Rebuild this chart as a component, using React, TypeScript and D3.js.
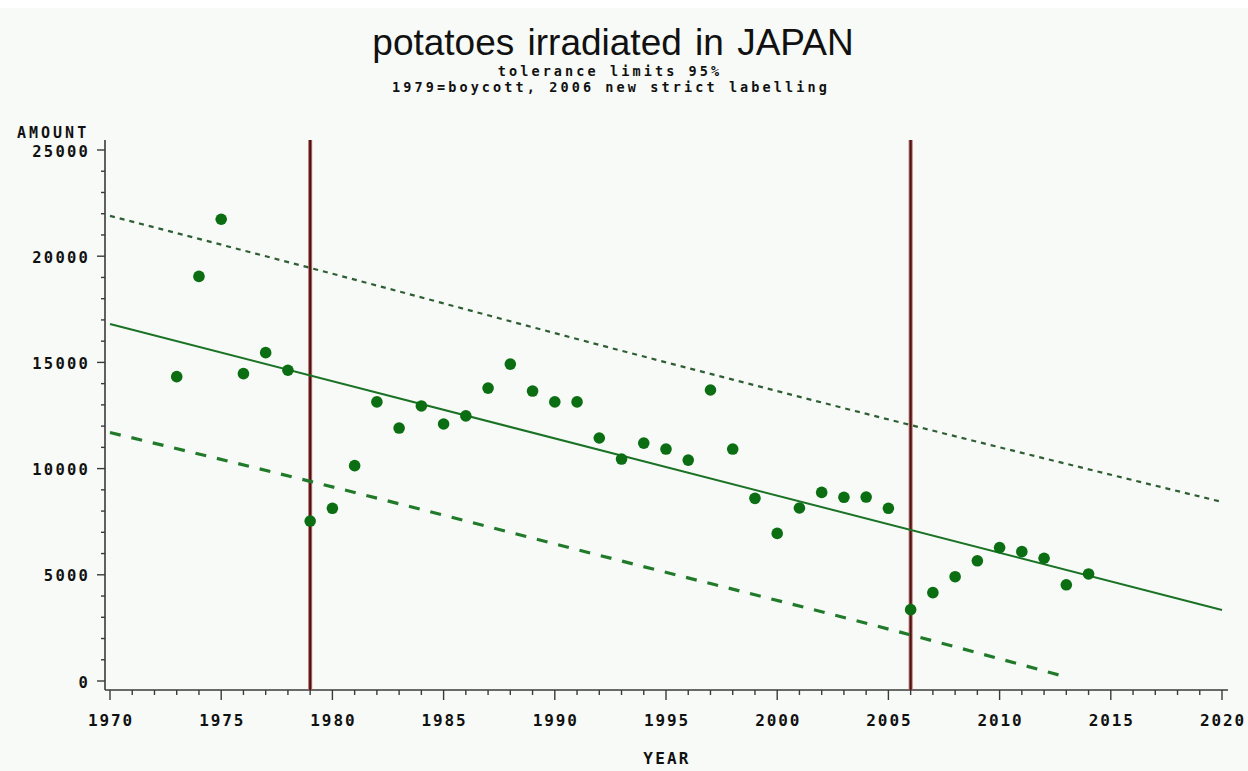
import React from "react";
import * as d3 from "d3";

const years = [1973, 1974, 1975, 1976, 1977, 1978, 1979, 1980, 1981, 1982, 1983, 1984, 1985, 1986, 1987, 1988, 1989, 1990, 1991, 1992, 1993, 1994, 1995, 1996, 1997, 1998, 1999, 2000, 2001, 2002, 2003, 2004, 2005, 2006, 2007, 2008, 2009, 2010, 2011, 2012, 2013, 2014];
const amounts = [14330, 19050, 21740, 14470, 15460, 14630, 7530, 8130, 10140, 13140, 11910, 12950, 12100, 12480, 13790, 14920, 13650, 13140, 13140, 11440, 10450, 11200, 10920, 10400, 13700, 10920, 8600, 6950, 8145, 8880, 8650, 8660, 8130, 3360, 4160, 4910, 5660, 6280, 6090, 5780, 4530, 5040];

const fitYears = [1970, 2020];
const fitValues = [16810, 3340];
const upperYears = [1970, 1979, 1993, 2006, 2020];
const upperValues = [21900, 19450, 15550, 12050, 8430];
const lowerYears = [1970, 1979, 1993, 2006, 2013];
const lowerValues = [11700, 9400, 5650, 2170, 190];

const eventYears = [1979, 2006];

const xTicks = [1970, 1975, 1980, 1985, 1990, 1995, 2000, 2005, 2010, 2015, 2020];
const yTicks = [0, 5000, 10000, 15000, 20000, 25000];

const title = "potatoes irradiated in JAPAN";
const subtitle1 = "tolerance limits 95%";
const subtitle2 = "1979=boycott, 2006 new strict labelling";

export default function App() {
  const W = 1248, H = 771;
  const x = d3.scaleLinear().domain([1970, 2020]).range([110, 1222]);
  const y = d3.scaleLinear().domain([0, 25000]).range([681, 150]);
  const axisLeft = 105, axisTop = 140, axisBottom = 690, axisRight = 1228;

  const line = d3.line<[number, number]>().x(d => x(d[0])).y(d => y(d[1]));
  const smooth = d3.line<[number, number]>().x(d => x(d[0])).y(d => y(d[1])).curve(d3.curveMonotoneX);

  const fitPath = line(fitYears.map((yr, i) => [yr, fitValues[i]]) as [number, number][]) || "";
  const upperPath = smooth(upperYears.map((yr, i) => [yr, upperValues[i]]) as [number, number][]) || "";
  const lowerPath = smooth(lowerYears.map((yr, i) => [yr, lowerValues[i]]) as [number, number][]) || "";

  const xMinor = d3.range(1970, 2021, 1);
  const yMinor = d3.range(0, 25001, 1000);

  const mono = "'DejaVu Sans Mono', monospace";
  const axisColor = "#3a3a3a";

  return (
    <svg width={W} height={H} style={{ position: "absolute", left: 0, top: 0, display: "block" }}>
      <rect x={0} y={0} width={W} height={H} fill="#ffffff" />
      <rect x={0} y={8} width={W} height={H - 8} fill="#f7faf7" />

      <text x={613} y={55} textAnchor="middle" fontFamily="'Liberation Sans', Arial, sans-serif" fontSize={37} wordSpacing={3} fill="#111">{title}</text>
      <text x={610} y={76} textAnchor="middle" fontFamily={mono} fontWeight="bold" fontSize={13.5} letterSpacing={3.1} fill="#111">{subtitle1}</text>
      <text x={611} y={92} textAnchor="middle" fontFamily={mono} fontWeight="bold" fontSize={13.5} letterSpacing={3.1} fill="#111">{subtitle2}</text>

      {/* axes */}
      <line x1={axisLeft} y1={axisTop} x2={axisLeft} y2={axisBottom} stroke={axisColor} strokeWidth={1.6} />
      <line x1={axisLeft} y1={axisBottom} x2={axisRight} y2={axisBottom} stroke={axisColor} strokeWidth={1.6} />

      {yMinor.map(v => (
        <line key={"ym" + v} x1={axisLeft} x2={v % 5000 === 0 ? 97 : 101} y1={y(v)} y2={y(v)} stroke={axisColor} strokeWidth={1.4} />
      ))}
      {xMinor.map(v => (
        <line key={"xm" + v} x1={x(v)} x2={x(v)} y1={axisBottom} y2={v % 5 === 0 ? 700 : 695} stroke={axisColor} strokeWidth={1.4} />
      ))}

      {yTicks.map(v => (
        <text key={"yt" + v} x={90} y={y(v) + 6.5} textAnchor="end" fontFamily={mono} fontWeight="bold" fontSize={15.5} letterSpacing={2.2} fill="#111">{v}</text>
      ))}
      {xTicks.map(v => (
        <text key={"xt" + v} x={x(v) + 1} y={726} textAnchor="middle" fontFamily={mono} fontWeight="bold" fontSize={16} letterSpacing={1.9} fill="#111">{v}</text>
      ))}

      <text x={17} y={137.5} fontFamily={mono} fontWeight="bold" fontSize={15} letterSpacing={3} fill="#111">AMOUNT</text>
      <text x={667} y={764} textAnchor="middle" fontFamily={mono} fontWeight="bold" fontSize={16} letterSpacing={2.2} fill="#111">YEAR</text>

      {/* event lines */}
      {eventYears.map(v => (
        <g key={"ev" + v}>
          <rect x={x(v) - 2} y={axisTop} width={4} height={axisBottom - axisTop} fill="#b86a6a" />
          <line x1={x(v)} x2={x(v)} y1={axisTop} y2={axisBottom} stroke="#4a1212" strokeWidth={2} />
        </g>
      ))}

      {/* fit and tolerance limits */}
      <path d={upperPath} fill="none" stroke="#2f5e34" strokeWidth={2.2} strokeDasharray="5,5" />
      <path d={lowerPath} fill="none" stroke="#207a2a" strokeWidth={3.2} strokeDasharray="11,11" />
      <path d={fitPath} fill="none" stroke="#1a7224" strokeWidth={2} />

      {years.map((yr, i) => (
        <circle key={"p" + yr} cx={x(yr)} cy={y(amounts[i])} r={5.8} fill="#0b6e12" />
      ))}
    </svg>
  );
}
